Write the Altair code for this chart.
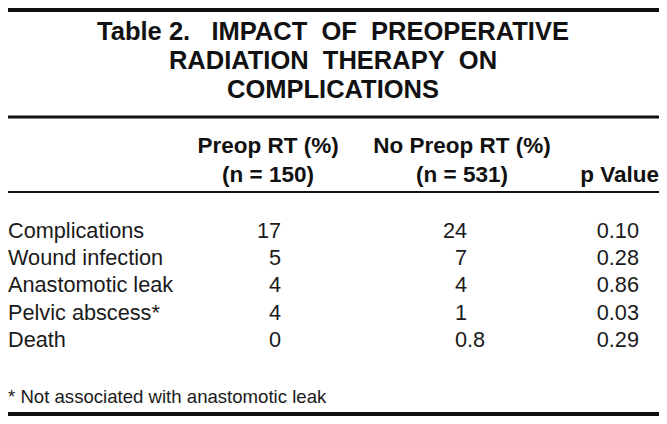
import altair as alt
import pandas as pd

# ---- data ----
title_lines = ["Table 2.\u00a0\u00a0\u00a0IMPACT\u00a0 OF\u00a0 PREOPERATIVE",
               "RADIATION\u00a0 THERAPY\u00a0 ON",
               "COMPLICATIONS"]
col_head_1 = ["Preop RT (%)", "(n = 150)"]
col_head_2 = ["No Preop RT (%)", "(n = 531)"]
col_head_3 = ["", "p Value"]
categories = ["Complications", "Wound infection", "Anastomotic leak",
              "Pelvic abscess*", "Death"]
preop_rt = ["17", "5", "4", "4", "0"]
no_preop_rt = ["24", "7", "4", "1", "0.8"]
p_values = ["0.10", "0.28", "0.86", "0.03", "0.29"]
footnote = "* Not associated with anastomotic leak"

# ---- layout (page pixel coordinates; plot area spans 8..659 x 8..416) ----
W, H = 651, 408
TITLE_Y = [32, 61, 90]
HEAD_Y = [146, 175]
ROW_Y0, ROW_STEP = 231, 27.2
FOOT_Y = 397
RULES = [(10, 4), (117, 3), (192, 1.8), (414, 4)]
X_LABEL, X_C1, X_C2, X_P, X_PHEAD = 8, 281, 467, 639, 659
X_H1, X_H2, X_TITLE = 268, 462, 333

FONT = "Liberation Sans"
xs = alt.Scale(domain=[8, 8 + W], range=[0, W])
ys = alt.Scale(domain=[8, 8 + H], range=[0, H])
X = lambda f="x": alt.X(f"{f}:Q", scale=xs, axis=None)
Y = lambda f="y": alt.Y(f"{f}:Q", scale=ys, axis=None)


def split(v):
    """Split a value at its decimal point so columns align on it."""
    if "." in v:
        a, b = v.split(".", 1)
        return a, "." + b
    return v, ""


# title
title_df = pd.DataFrame({"t": title_lines, "y": TITLE_Y, "x": [X_TITLE] * 3})
title = alt.Chart(title_df).mark_text(
    font=FONT, fontSize=25.5, fontWeight="bold", align="center", baseline="middle",
    color="#111"
).encode(x=X(), y=Y(), text="t:N")

# headers
hrows = []
for i in range(2):
    hrows.append({"t": col_head_1[i], "x": X_H1, "y": HEAD_Y[i], "a": "c"})
    hrows.append({"t": col_head_2[i], "x": X_H2, "y": HEAD_Y[i], "a": "c"})
    if col_head_3[i]:
        hrows.append({"t": col_head_3[i], "x": X_PHEAD, "y": HEAD_Y[i], "a": "r"})
hdf = pd.DataFrame(hrows)
head_c = alt.Chart(hdf).transform_filter("datum.a == 'c'").mark_text(
    font=FONT, fontSize=22.5, fontWeight="bold", baseline="middle", align="center",
    color="#111").encode(x=X(), y=Y(), text="t:N")
head_r = alt.Chart(hdf).transform_filter("datum.a == 'r'").mark_text(
    font=FONT, fontSize=22.5, fontWeight="bold", baseline="middle", align="right",
    color="#111").encode(x=X(), y=Y(), text="t:N")

# body
rows_l, rows_r = [], []
for i, cat in enumerate(categories):
    y = ROW_Y0 + i * ROW_STEP
    rows_l.append({"t": cat, "x": X_LABEL, "y": y})
    for v, anchor in ((preop_rt[i], X_C1), (no_preop_rt[i], X_C2)):
        a, b = split(v)
        rows_r.append({"t": a, "x": anchor, "y": y})
        if b:
            rows_l.append({"t": b, "x": anchor, "y": y})
    rows_r.append({"t": p_values[i], "x": X_P, "y": y})

ldf = pd.DataFrame(rows_l)
rdf = pd.DataFrame(rows_r)
fdf = pd.DataFrame({"t": [footnote], "x": [X_LABEL], "y": [FOOT_Y]})

body_l = alt.Chart(ldf).mark_text(
    font=FONT, fontSize=21.7, align="left", baseline="middle", color="#1a1a1a"
).encode(x=X(), y=Y(), text="t:N")
body_r = alt.Chart(rdf).mark_text(
    font=FONT, fontSize=21.7, align="right", baseline="middle", color="#1a1a1a"
).encode(x=X(), y=Y(), text="t:N")
foot = alt.Chart(fdf).mark_text(
    font=FONT, fontSize=18.6, align="left", baseline="middle", color="#1a1a1a"
).encode(x=X(), y=Y(), text="t:N")

# rules
rdf2 = pd.DataFrame({"y": [r[0] for r in RULES], "w": [r[1] for r in RULES]})
rules = alt.Chart(rdf2).mark_rule(color="#111").encode(
    y=Y(), x=alt.value(0), x2=alt.value(W),
    strokeWidth=alt.StrokeWidth("w:Q", scale=None, legend=None))

chart = alt.layer(rules, title, head_c, head_r, body_l, body_r, foot).properties(
    width=W, height=H, padding=0, autosize=alt.AutoSizeParams(type="none")
).configure_view(stroke=None)

chart.save("out.html", embed_options={"renderer": "svg", "actions": False})
